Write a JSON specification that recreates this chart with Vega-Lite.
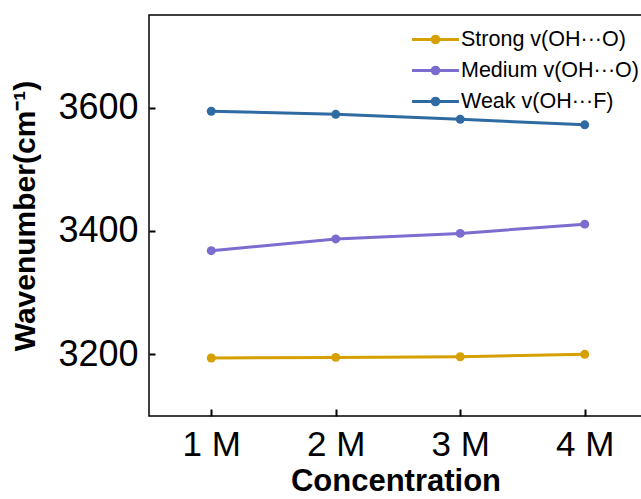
{
  "$schema": "https://vega.github.io/schema/vega-lite/v6.json",
  "width": 493,
  "height": 401,
  "autosize": {"type": "none"},
  "padding": {"left": 149, "top": 15, "right": 0, "bottom": 83},
  "background": "white",
  "config": {
    "font": "Liberation Sans",
    "view": {"stroke": "black", "strokeWidth": 1.5},
    "axis": {"grid": false, "domain": false, "ticks": true, "tickColor": "black", "tickWidth": 2, "labelColor": "black", "titleColor": "black", "labelFont": "Liberation Sans", "titleFont": "Liberation Sans"}
  },
  "data": {"values": [
    {"conc": 1, "type": "Strong v(OH···O)", "wn": 3194},
    {"conc": 2, "type": "Strong v(OH···O)", "wn": 3195},
    {"conc": 3, "type": "Strong v(OH···O)", "wn": 3196},
    {"conc": 4, "type": "Strong v(OH···O)", "wn": 3200},
    {"conc": 1, "type": "Medium v(OH···O)", "wn": 3368},
    {"conc": 2, "type": "Medium v(OH···O)", "wn": 3387},
    {"conc": 3, "type": "Medium v(OH···O)", "wn": 3396},
    {"conc": 4, "type": "Medium v(OH···O)", "wn": 3411},
    {"conc": 1, "type": "Weak v(OH···F)", "wn": 3594},
    {"conc": 2, "type": "Weak v(OH···F)", "wn": 3589},
    {"conc": 3, "type": "Weak v(OH···F)", "wn": 3581},
    {"conc": 4, "type": "Weak v(OH···F)", "wn": 3572}
  ]},
  "encoding": {
    "x": {"field": "conc", "type": "quantitative", "scale": {"domain": [0.5, 4.46], "nice": false, "zero": false},
      "axis": {"values": [1, 2, 3, 4], "labelExpr": "datum.value + ' M'", "title": "Concentration", "tickSize": -7, "labelPadding": 18, "labelFontSize": 35, "titleFontSize": 31, "titleFontWeight": "bold", "titlePadding": 4}},
    "y": {"field": "wn", "type": "quantitative", "scale": {"domain": [3100, 3750], "nice": false, "zero": false},
      "axis": {"values": [3200, 3400, 3600], "format": "d", "title": "Wavenumber(cm⁻¹)", "tickSize": -6, "labelPadding": 17, "labelFontSize": 36, "titleFontSize": 30, "titleFontWeight": "bold", "titlePadding": 17}},
    "color": {"field": "type", "type": "nominal", "sort": ["Strong v(OH···O)", "Medium v(OH···O)", "Weak v(OH···F)"],
      "scale": {"domain": ["Strong v(OH···O)", "Medium v(OH···O)", "Weak v(OH···F)"], "range": ["#d6a000", "#7b6ccf", "#2f6aa3"]},
      "legend": {"orient": "none", "legendX": 273, "legendY": 11, "title": null, "labelFontSize": 21.5, "labelLimit": 400, "labelColor": "black", "rowPadding": 7, "symbolType": "M-2,0L2,0M-0.28,0A0.28,0.28 0 1,0 0.28,0A0.28,0.28 0 1,0 -0.28,0", "symbolSize": 550, "symbolStrokeWidth": 3, "labelOffset": 12}}
  },
  "layer": [
    {"mark": {"type": "line", "strokeWidth": 3}},
    {"mark": {"type": "point", "filled": true, "size": 80, "opacity": 1}}
  ]
}
